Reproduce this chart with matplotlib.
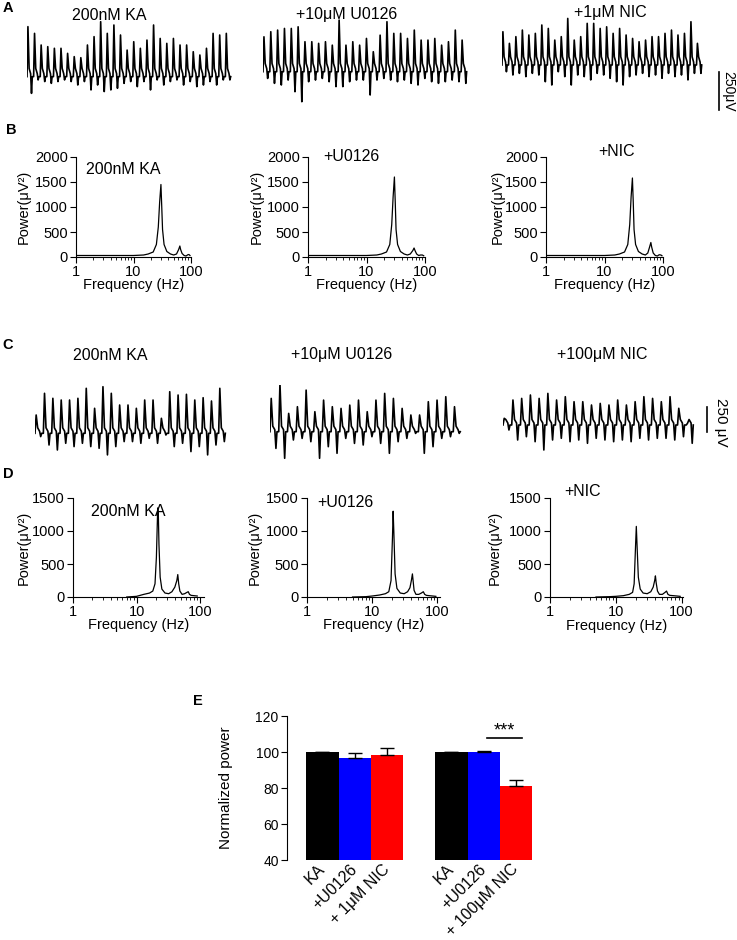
import matplotlib.pyplot as plt
import numpy as np
from matplotlib.transforms import blended_transform_factory

plt.rcParams['font.family'] = ['Liberation Sans', 'DejaVu Sans']

# ---- panel A traces (per-cycle spike peak / trough, uV) ----
a1_peaks = [335, 290, 212, 201, 190, 190, 156, 134, 127, 212, 268, 368, 290, 346, 279, 178,
            234, 190, 245, 346, 256, 223, 256, 212, 212, 167, 145, 190, 290, 279, 290]
a1_troughs = [-112, -22, -33, -45, -33, -22, -33, -56, -33, -89, -56, -100, -89, -78, -45, -33,
              -67, -33, -89, -22, -56, -33, -22, -56, -33, -67, -56, -33, -56, -22, -22]
a2_peaks = [234, 268, 279, 290, 290, 301, 201, 201, 190, 201, 178, 346, 178, 201, 178, 223,
            134, 245, 335, 257, 257, 223, 279, 212, 212, 223, 178, 201, 279, 212]
a2_troughs = [-45, -78, -89, -56, -134, -201, -67, -56, -45, -67, -100, -100, -67, -56, -56, -156,
              -56, -45, -56, -67, -56, -78, -89, -45, -67, -78, -67, -56, -67, -78]
a3_peaks = [223, 145, 190, 234, 201, 212, 268, 245, 167, 190, 312, 167, 190, 279, 279, 245,
            256, 212, 245, 201, 178, 156, 167, 190, 190, 212, 234, 201, 212, 290, 145]
a3_troughs = [-45, -67, -56, -78, -56, -67, -112, -134, -45, -78, -134, -67, -78, -100, -56, -67,
              -89, -112, -134, -78, -67, -56, -78, -67, -89, -56, -78, -67, -100, -56, -56]

# ---- panel C traces ----
c1_peaks = [183, 400, 350, 333, 333, 350, 450, 250, 466, 400, 283, 283, 250, 333, 333, 150,
            416, 383, 390, 333, 356, 323, 450]
c1_troughs = [-33, -117, -167, -100, -133, -100, -133, -150, -216, -133, -83, -83, -100, -50,
              -100, -17, -133, -100, -183, -133, -216, -117, -83]
c2_peaks = [333, 483, 183, 250, 416, 200, 316, 250, 233, 266, 316, 200, 316, 383, 333, 233,
            167, 167, 300, 316, 350, 250]
c2_troughs = [-167, -266, -83, -67, -100, -266, -150, -216, -67, -117, -133, -50, -117, -216,
              -100, -67, -17, -216, -150, -67, -50, -17]
c3_peaks = [67, 250, 266, 300, 266, 316, 250, 283, 233, 233, 200, 216, 200, 250, 200, 233,
            283, 266, 233, 283, 167, 17]
c3_troughs = [-50, -150, -117, -167, -250, -150, -133, -167, -150, -183, -133, -150, -167, -150,
              -167, -133, -150, -133, -133, -150, -117, -183]

# ---- power spectra ----
b1_freq = [1, 3, 10, 15, 18, 22, 25, 27, 28.5, 30, 31, 32, 34, 38, 44, 50, 56, 61, 64, 66, 70,
           76, 82, 88, 92, 96]
b1_pow = [30, 30, 30, 40, 60, 100, 250, 600, 1100, 1450, 1000, 550, 250, 110, 60, 40, 60, 150,
          220, 150, 70, 30, 20, 45, 50, 30]
b2_freq = [1, 3, 10, 15, 18, 22, 25, 27, 28.5, 30, 31, 32, 34, 38, 44, 50, 56, 62, 65, 68, 72,
           78, 84, 90, 95]
b2_pow = [30, 30, 30, 40, 60, 100, 250, 650, 1200, 1600, 1100, 550, 250, 110, 60, 40, 60, 130,
          180, 120, 60, 30, 40, 40, 25]
b3_freq = [1, 3, 10, 15, 18, 22, 25, 27, 28.5, 30, 31, 32, 34, 38, 44, 50, 55, 59, 62, 64, 68,
           74, 80, 86, 92, 96]
b3_pow = [30, 30, 30, 40, 60, 100, 250, 650, 1200, 1580, 1100, 550, 250, 110, 60, 40, 80, 200,
          290, 200, 80, 30, 20, 45, 40, 25]

d1_freq = [7, 10, 13, 16, 18, 19.5, 20.5, 21.5, 22, 22.5, 23.5, 25, 28, 32, 36, 40, 43, 44.5,
           46, 48, 52, 57, 62, 65, 68, 72, 80, 90]
d1_pow = [0, 10, 40, 60, 90, 200, 600, 1350, 1250, 800, 300, 120, 60, 50, 80, 150, 250, 340,
          200, 90, 40, 50, 70, 80, 40, 25, 20, 15]
d2_freq = [5, 8, 10, 13, 16, 18, 19.5, 20.5, 21, 21.5, 22.5, 24, 27, 31, 35, 38, 40, 41.5,
           42.5, 44, 47, 52, 57, 61, 64, 68, 75, 85, 95]
d2_pow = [0, 5, 15, 30, 50, 80, 250, 900, 1300, 1000, 350, 130, 60, 50, 80, 140, 250, 350,
          250, 100, 40, 40, 60, 80, 40, 25, 20, 15, 10]
d3_freq = [5, 8, 10, 13, 16, 18, 19, 20, 20.5, 21, 22, 23.5, 26, 30, 34, 37, 39, 40, 41, 43,
           46, 51, 56, 59, 62, 66, 75, 85, 95]
d3_pow = [0, 5, 10, 20, 40, 70, 200, 800, 1070, 800, 300, 120, 60, 50, 80, 150, 250, 320,
          220, 90, 40, 40, 70, 90, 40, 25, 20, 15, 10]

# ---- panel E ----
e_labels = ['KA', '+U0126', '+ 1μM NIC', 'KA', '+U0126', '+ 100μM NIC']
e_means = [100, 96.5, 98.5, 100, 100.1, 81.2]
e_err = [0, 3.0, 3.5, 0, 0.3, 3.3]
e_pos = [0, 1, 2, 4, 5, 6]
e_colors = ['black', '#0000ff', '#ff0000'] * 2

W, H = 737, 940
fig = plt.figure(figsize=(W / 100, H / 100), dpi=100)


def add_ax(x0, y0, x1, y1):
    return fig.add_axes([x0 / W, 1 - y1 / H, (x1 - x0) / W, (y1 - y0) / H])


def ftext(x, y, s, **kw):
    fig.text(x / W, 1 - y / H, s, **kw)


def draw_trace(box, peaks, troughs, ylim):
    ax = add_ax(*box)
    xs, ys = [], []
    for i, (p, t) in enumerate(zip(peaks, troughs)):
        xs += [i, i + 0.14, i + 0.32, i + 0.55, i + 0.68, i + 0.8]
        ys += [0, p, 55, 20, t, 0]
    ax.plot(xs, ys, color='black', lw=1.2)
    ax.set_xlim(0, len(peaks))
    ax.set_ylim(*ylim)
    ax.axis('off')
    return ax


def draw_spec(box, freq, power, ymax, yticks, xmax, title, tpos, ylpad, xlpad):
    ax = add_ax(*box)
    ax.plot(freq, power, color='black', lw=0.9)
    ax.set_xscale('log')
    ax.set_xlim(1, xmax)
    ax.set_ylim(0, ymax)
    ax.set_yticks(yticks)
    ax.set_xticks([1, 10, 100])
    ax.set_xticklabels(['1', '10', '100'])
    for s in ['top', 'right']:
        ax.spines[s].set_visible(False)
    ax.tick_params(which='major', length=4, width=0.8, labelsize=10.5, pad=2)
    ax.tick_params(which='minor', length=2, width=0.6)
    ax.set_xlabel('Frequency (Hz)', fontsize=10.5, labelpad=xlpad)
    ax.set_ylabel('Power(μV²)', fontsize=10.5, labelpad=ylpad)
    ftext(tpos[0], tpos[1], title, fontsize=11.5, ha='center', va='center')
    return ax


# panel A
draw_trace((27, 15, 232, 105), a1_peaks, a1_troughs, (-190, 413))
draw_trace((263, 15, 468, 105), a2_peaks, a2_troughs, (-223, 380))
ax_a3 = draw_trace((502, 15, 703, 105), a3_peaks, a3_troughs, (-268, 335))
ftext(109, 15, '200nM KA', fontsize=11.5, ha='center', va='center')
ftext(347, 15, '+10μM U0126', fontsize=11.5, ha='center', va='center')
ftext(610, 12, '+1μM NIC', fontsize=11.5, ha='center', va='center')
tr = blended_transform_factory(fig.transFigure, ax_a3.transData)
fig.add_artist(plt.Line2D([719 / W, 719 / W], [-300, -50], transform=tr, color='black', lw=1.2))
ftext(728, 91, '250μV', fontsize=10, rotation=270, ha='center', va='center')

# panel B
draw_spec((76, 157, 191, 257), b1_freq, b1_pow, 2000, [0, 500, 1000, 1500, 2000], 100,
          '200nM KA', (123, 170), 3, -1)
draw_spec((308, 157, 425, 257), b2_freq, b2_pow, 2000, [0, 500, 1000, 1500, 2000], 100,
          '+U0126', (351, 157), 2, -1)
draw_spec((546, 157, 663, 257), b3_freq, b3_pow, 2000, [0, 500, 1000, 1500, 2000], 100,
          '+NIC', (617, 152), 0, -1)

# panel C
draw_trace((35, 385, 227, 460), c1_peaks, c1_troughs, (-267, 483))
draw_trace((270, 385, 462, 460), c2_peaks, c2_troughs, (-283, 467))
ax_c3 = draw_trace((503, 385, 695, 460), c3_peaks, c3_troughs, (-350, 400))
ftext(110, 355, '200nM KA', fontsize=11.5, ha='center', va='center')
ftext(342, 355, '+10μM U0126', fontsize=11.5, ha='center', va='center')
ftext(602, 355, '+100μM NIC', fontsize=11.5, ha='center', va='center')
tr = blended_transform_factory(fig.transFigure, ax_c3.transData)
fig.add_artist(plt.Line2D([707 / W, 707 / W], [-67, 183], transform=tr, color='black', lw=1.2))
ftext(721, 422, '250 μV', fontsize=11, rotation=270, ha='center', va='center')

# panel D
draw_spec((73, 498, 204, 597), d1_freq, d1_pow, 1500, [0, 500, 1000, 1500], 115,
          '200nM KA', (128, 512), 1, -1)
draw_spec((307, 498, 440, 597), d2_freq, d2_pow, 1500, [0, 500, 1000, 1500], 110,
          '+U0126', (345, 502), 3, -1)
draw_spec((550, 498, 683, 597), d3_freq, d3_pow, 1500, [0, 500, 1000, 1500], 105,
          '+NIC', (583, 492), 5, 0)

# panel E
ax = add_ax(287, 716, 532, 860)
ax.bar(e_pos, e_means, width=1.0, color=e_colors)
ax.errorbar(e_pos, e_means, yerr=[np.zeros(len(e_err)), e_err], fmt='none', ecolor='black',
            elinewidth=1, capsize=5, capthick=1, zorder=3)
ax.set_xlim(-1.1, 6.5)
ax.set_ylim(40, 120)
ax.set_yticks([40, 60, 80, 100, 120])
for s in ['top', 'right', 'bottom']:
    ax.spines[s].set_visible(False)
ax.tick_params(axis='y', length=4, width=0.8, labelsize=10, pad=2)
ax.set_xticks(e_pos)
ax.set_xticklabels(e_labels, rotation=45, ha='right', va='center', rotation_mode='anchor',
                   fontsize=11.5)
ax.tick_params(axis='x', length=0, pad=5)
ax.set_ylabel('Normalized power', fontsize=11, labelpad=16)
ax.plot([5.1, 6.2], [108, 108], color='black', lw=1.2)
ax.text(5.65, 111.5, '***', ha='center', va='center', fontsize=13)

# panel letters
for letter, (x, y) in zip('ABCDE', [(8, 8), (11, 130), (8, 345), (8, 474), (198, 701)]):
    ftext(x, y, letter, fontsize=10.5, fontweight='bold', ha='center', va='center')

fig.savefig('out.png', dpi=100)
